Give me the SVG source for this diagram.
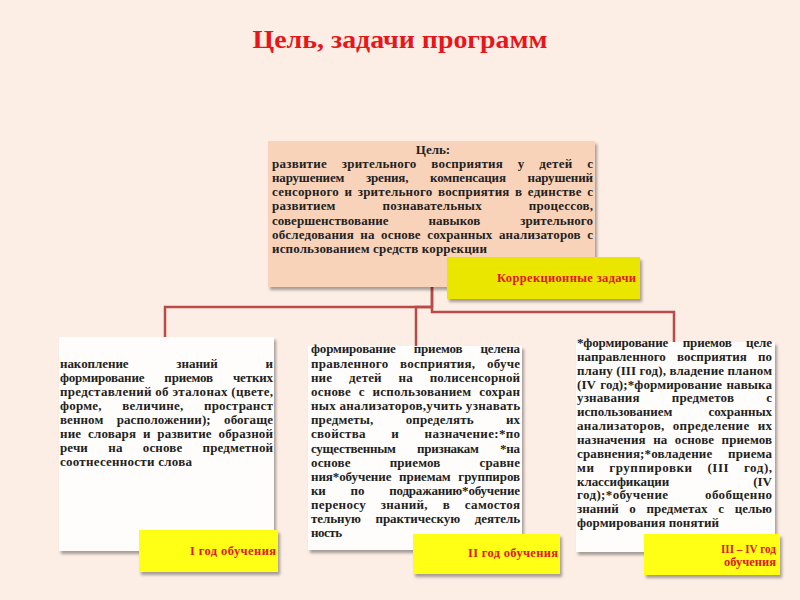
<svg xmlns="http://www.w3.org/2000/svg" width="800" height="600" viewBox="0 0 800 600">
<defs>
<filter id="sh" x="-10%" y="-10%" width="125%" height="130%">
<feDropShadow dx="2" dy="3" stdDeviation="1.8" flood-color="#000" flood-opacity="0.35"/>
</filter>
<style>
.t{font-family:"Liberation Serif","DejaVu Serif",serif;font-weight:bold;font-size:13px;fill:#222}
.lab{font-family:"Liberation Serif","DejaVu Serif",serif;font-weight:bold;font-size:12.5px;fill:#E3161B}
.box{fill:#FFFDFB;filter:url(#sh)}
.yel{fill:#FFFF14;filter:url(#sh)}
.con{fill:none;stroke:#B94A48;stroke-width:2.5}
</style>
</defs>
<rect width="800" height="600" fill="#FDEEE5"/>
<text x="400" y="48" text-anchor="middle" textLength="295" lengthAdjust="spacingAndGlyphs" style="font-family:'Liberation Serif',serif;font-weight:bold;font-size:26px;fill:#E8161B">Цель, задачи программ</text>

<g id="connectors">
<path class="con" d="M432,287 V307 H165 V337"/>
<path class="con" d="M432,307 H416 V346"/>
<path class="con" d="M432,287 V312 H674 V342"/>
</g>

<g id="goal">
<rect x="268" y="141" width="327" height="146" fill="#F9D3B9" filter="url(#sh)"/>
<text class="t" x="433" y="154" text-anchor="middle">Цель:</text>
<text class="t" x="272" y="168" word-spacing="11.3" textLength="321" lengthAdjust="spacing">развитие зрительного восприятия у детей с</text>
<text class="t" x="272" y="182" word-spacing="18.7" textLength="321" lengthAdjust="spacing">нарушением зрения, компенсация нарушений</text>
<text class="t" x="272" y="196" word-spacing="2" textLength="321" lengthAdjust="spacing">сенсорного и зрительного восприятия в единстве с</text>
<text class="t" x="272" y="210" word-spacing="43.4" textLength="321" lengthAdjust="spacing">развитием познавательных процессов,</text>
<text class="t" x="272" y="224.5" word-spacing="36.5" textLength="321" lengthAdjust="spacing">совершенствование навыков зрительного</text>
<text class="t" x="272" y="239" word-spacing="3" textLength="321" lengthAdjust="spacing">обследования на основе сохранных анализаторов с</text>
<text class="t" x="272" y="253" textLength="215" lengthAdjust="spacing">использованием средств коррекции</text>
</g>

<g id="correction-tasks">
<rect x="447" y="257" width="193" height="42" fill="#EAE600" filter="url(#sh)"/>
<text class="lab" x="636" y="282" text-anchor="end" textLength="139" lengthAdjust="spacing">Коррекционные задачи</text>
</g>

<g id="year1">
<rect class="box" x="59" y="337" width="215" height="214"/>
<text class="t" x="60" y="367.7" word-spacing="44.6" textLength="213" lengthAdjust="spacing">накопление знаний и</text>
<text class="t" x="60" y="381.7" word-spacing="17" textLength="213" lengthAdjust="spacing">формирование приемов четких</text>
<text class="t" x="60" y="395.7" textLength="213" lengthAdjust="spacing">представлений об эталонах (цвете,</text>
<text class="t" x="60" y="410" word-spacing="17" textLength="213" lengthAdjust="spacing">форме, величине, пространст</text>
<text class="t" x="60" y="424" word-spacing="10" textLength="213" lengthAdjust="spacing">венном расположении); обогаще</text>
<text class="t" x="60" y="438" word-spacing="3.4" textLength="213" lengthAdjust="spacing">ние словаря и развитие образной</text>
<text class="t" x="60" y="451.7" word-spacing="17" textLength="213" lengthAdjust="spacing">речи на основе предметной</text>
<text class="t" x="60" y="466" textLength="132" lengthAdjust="spacing">соотнесенности слова</text>
<rect class="yel" x="139" y="530" width="139" height="42"/>
<text class="lab" x="276" y="555" text-anchor="end" textLength="86" lengthAdjust="spacing">I год обучения</text>
</g>

<g id="year2">
<rect class="box" x="308" y="346" width="214" height="204"/>
<text class="t" x="311" y="353.3" word-spacing="15" textLength="209" lengthAdjust="spacing">формирование приемов целена</text>
<text class="t" x="311" y="367.7" word-spacing="8.1" textLength="209" lengthAdjust="spacing">правленного восприятия, обуче</text>
<text class="t" x="311" y="381.7" word-spacing="13.5" textLength="209" lengthAdjust="spacing">ние детей на полисенсорной</text>
<text class="t" x="311" y="396" word-spacing="4.3" textLength="209" lengthAdjust="spacing">основе с использованием сохран</text>
<text class="t" x="311" y="410" textLength="209" lengthAdjust="spacing">ных анализаторов,учить узнавать</text>
<text class="t" x="311" y="424.3" word-spacing="28.8" textLength="209" lengthAdjust="spacing">предметы, определять их</text>
<text class="t" x="311" y="438.3" word-spacing="21.9" textLength="209" lengthAdjust="spacing">свойства и назначение:*по</text>
<text class="t" x="311" y="452.7" word-spacing="18.5" textLength="209" lengthAdjust="spacing">существенным признакам *на</text>
<text class="t" x="311" y="466.7" word-spacing="35.7" textLength="209" lengthAdjust="spacing">основе приемов сравне</text>
<text class="t" x="311" y="481" word-spacing="4.6" textLength="209" lengthAdjust="spacing">ния*обучение приемам группиров</text>
<text class="t" x="311" y="495" word-spacing="21.9" textLength="209" lengthAdjust="spacing">ки по подражанию*обучение</text>
<text class="t" x="311" y="509.3" word-spacing="11.2" textLength="209" lengthAdjust="spacing">переносу знаний, в самостоя</text>
<text class="t" x="311" y="523.3" word-spacing="11.5" textLength="209" lengthAdjust="spacing">тельную практическую деятель</text>
<text class="t" x="311" y="536.7" textLength="31" lengthAdjust="spacing">ность</text>
<rect class="yel" x="413" y="534" width="147" height="40"/>
<text class="lab" x="558" y="557.3" text-anchor="end" textLength="90" lengthAdjust="spacing">II год обучения</text>
</g>

<g id="year3-4">
<rect class="box" x="576" y="342" width="199" height="210"/>
<text class="t" x="577" y="347" word-spacing="11.4" textLength="195" lengthAdjust="spacing">*формирование приемов целе</text>
<text class="t" x="577" y="360.85" word-spacing="8" textLength="195" lengthAdjust="spacing">направленного восприятия по</text>
<text class="t" x="577" y="374.7" textLength="195" lengthAdjust="spacing">плану (III год), владение планом</text>
<text class="t" x="577" y="388.55" word-spacing="1" textLength="195" lengthAdjust="spacing">(IV год);*формирование навыка</text>
<text class="t" x="577" y="402.4" word-spacing="28.7" textLength="195" lengthAdjust="spacing">узнавания предметов с</text>
<text class="t" x="577" y="416.25" word-spacing="33" textLength="195" lengthAdjust="spacing">использованием сохранных</text>
<text class="t" x="577" y="430.1" word-spacing="4.5" textLength="195" lengthAdjust="spacing">анализаторов, определение их</text>
<text class="t" x="577" y="443.95" word-spacing="4.2" textLength="195" lengthAdjust="spacing">назначения на основе приемов</text>
<text class="t" x="577" y="457.8" word-spacing="12.3" textLength="195" lengthAdjust="spacing">сравнения;*овладение приема</text>
<text class="t" x="577" y="471.65" word-spacing="11.1" textLength="195" lengthAdjust="spacing">ми группировки (III год),</text>
<text class="t" x="577" y="485.5" word-spacing="81" textLength="195" lengthAdjust="spacing">классификации (IV</text>
<text class="t" x="577" y="499.35" word-spacing="33" textLength="195" lengthAdjust="spacing">год);*обучение обобщенно</text>
<text class="t" x="577" y="513.2" word-spacing="7.5" textLength="195" lengthAdjust="spacing">знаний о предметах с целью</text>
<text class="t" x="577" y="527" textLength="142" lengthAdjust="spacing">формирования понятий</text>
<rect class="yel" x="644" y="534" width="136" height="41"/>
<text class="lab" x="776" y="552.7" text-anchor="end" textLength="55" lengthAdjust="spacingAndGlyphs">III – IV год</text>
<text class="lab" x="776" y="565.5" text-anchor="end" textLength="52" lengthAdjust="spacingAndGlyphs">обучения</text>
</g>
</svg>
